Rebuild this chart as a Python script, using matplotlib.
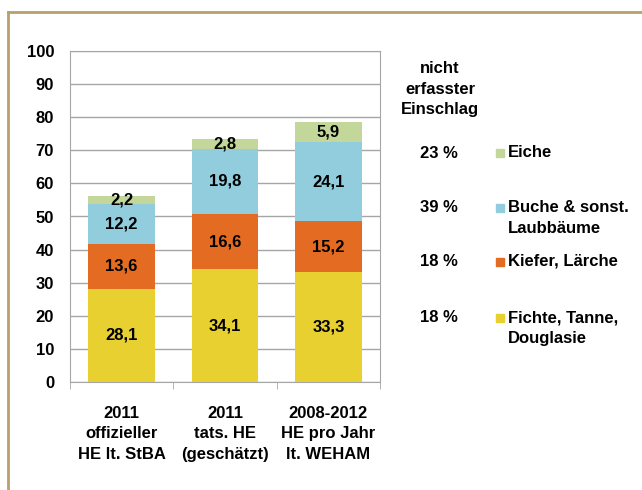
import matplotlib
matplotlib.use("Agg")
import matplotlib.pyplot as plt
from matplotlib.patches import Rectangle
from matplotlib.lines import Line2D

plt.rcParams['font.family'] = ['Liberation Sans', 'DejaVu Sans']
plt.rcParams['font.weight'] = 'bold'

categories = ["2011\noffizieller\nHE lt. StBA",
              "2011\ntats. HE\n(geschätzt)",
              "2008-2012\nHE pro Jahr\nlt. WEHAM"]
species = ["Fichte, Tanne,\nDouglasie", "Kiefer, Lärche",
           "Buche & sonst.\nLaubbäume", "Eiche"]
fichte = [28.1, 34.1, 33.3]
kiefer = [13.6, 16.6, 15.2]
buche = [12.2, 19.8, 24.1]
eiche = [2.2, 2.8, 5.9]
not_recorded = ["18 %", "18 %", "39 %", "23 %"]
colors = ['#E8D031', '#E46C22', '#92CDDD', '#C4D79B']

FS = 12
LS = 1.48
W, H = 642, 490
fig = plt.figure(figsize=(W / 100, H / 100), dpi=100)

def fx(px):
    return px / W

def fy(py):
    return 1 - py / H

ax = fig.add_axes([fx(70), fy(382), fx(380) - fx(70), fy(51) - fy(382)])

x = range(len(categories))
bottom = [0, 0, 0]
for vals, col in zip([fichte, kiefer, buche, eiche], colors):
    bars = ax.bar(x, vals, 0.645, bottom=bottom, color=col, zorder=2)
    for b, v in zip(bars, vals):
        ax.text(b.get_x() + b.get_width() / 2, b.get_y() + v / 2,
                f"{v:.1f}".replace('.', ','), ha='center', va='center',
                fontsize=FS, fontweight='bold', zorder=3)
    bottom = [bt + v for bt, v in zip(bottom, vals)]

ax.set_xlim(-0.5, 2.5)
ax.set_ylim(0, 100)
ax.set_yticks(range(0, 101, 10))
ax.yaxis.grid(True, color='#a6a6a6', linewidth=1, zorder=0)
ax.set_axisbelow(True)
for s in ax.spines.values():
    s.set_color('#a6a6a6')
ax.tick_params(axis='y', length=0, pad=11.5, labelsize=FS)
ax.set_xticks(list(x))
ax.set_xticklabels(categories, fontsize=FS, fontweight='bold', linespacing=LS)
ax.tick_params(axis='x', length=0, pad=17)
ax.set_xticks([-0.5, 0.5, 1.5, 2.5], minor=True)
ax.tick_params(axis='x', which='minor', length=5, color='#a6a6a6', direction='out')

# legend on the right
fig.text(fx(440), fy(89), "nicht\nerfasster\nEinschlag", ha='center', va='center',
         fontsize=FS, fontweight='bold', linespacing=LS)
rows_y = [318, 262, 208, 153]
for lab, pct, col, ry in zip(species, not_recorded, colors, rows_y):
    fig.text(fx(439), fy(ry), pct, ha='center', va='center', fontsize=FS,
             fontweight='bold')
    fig.patches.append(Rectangle((fx(496), fy(ry + 4)), fx(8), fy(0) - fy(8),
                                 transform=fig.transFigure, color=col))
    fig.text(fx(508), fy(ry - 8), lab, ha='left', va='top', fontsize=FS,
             fontweight='bold', linespacing=LS)

# frame
fig.lines.append(Line2D([fx(8), 1], [fy(12), fy(12)], transform=fig.transFigure,
                        color='#B8A06E', linewidth=2))
fig.lines.append(Line2D([fx(8), fx(8)], [fy(12), 0], transform=fig.transFigure,
                        color='#B8A06E', linewidth=2))

fig.savefig("out.png", dpi=100)
